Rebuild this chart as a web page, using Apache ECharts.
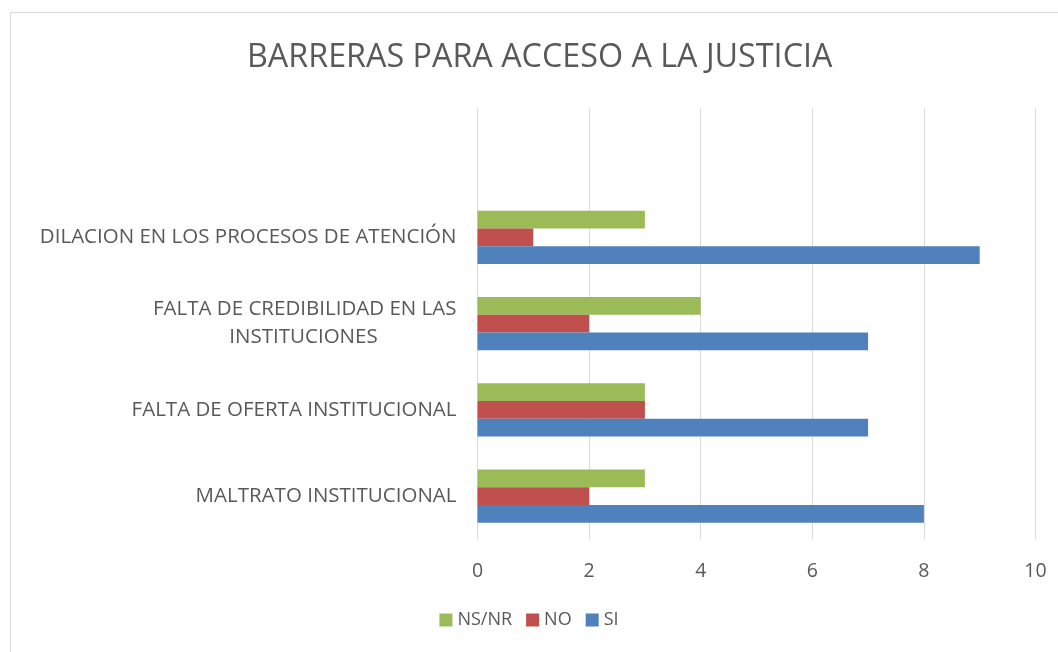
<!DOCTYPE html>
<html><head><meta charset="utf-8">
<script src="https://cdn.jsdelivr.net/npm/echarts@6/dist/echarts.min.js"></script>
<style>html,body{margin:0;padding:0;background:#fff}#c{width:1058px;height:652px}</style>
</head><body><div id="c"></div>
<script>
const categories = ["MALTRATO INSTITUCIONAL", "FALTA DE OFERTA INSTITUCIONAL", "FALTA DE CREDIBILIDAD EN LAS\nINSTITUCIONES", "DILACION EN LOS PROCESOS DE ATENCIÓN", ""];
const siValues = [8, 7, 7, 9];
const noValues = [2, 3, 2, 1];
const nsnrValues = [3, 3, 4, 3];
const xTicks = [0, 2, 4, 6, 8, 10];

const FONT = '"Open Sans", sans-serif';
const chart = echarts.init(document.getElementById('c'));
chart.setOption({
  animation: false,
  graphic: [{type:'rect', shape:{x:10.5,y:12.5,width:1100,height:700}, style:{fill:'none', stroke:'#d9d9d9', lineWidth:1}}],
  title: {text:'BARRERAS PARA ACCESO A LA JUSTICIA', left:242, top:37,
    textStyle:{fontFamily:FONT, fontWeight:'normal', fontSize:32.3, color:'#595959'}},
  legend: {data:['NS/NR','NO','SI'], bottom:18, left:'center', itemWidth:13, itemHeight:13, itemGap:14,
    icon:'rect', textStyle:{fontFamily:FONT, fontSize:18, color:'#595959'}},
  grid: {left:477.5, right:22.5, top:108, bottom:112.7, containLabel:false},
  xAxis: {type:'value', min:xTicks[0], max:xTicks[xTicks.length-1], interval:2,
    axisLine:{show:false}, axisTick:{show:false},
    splitLine:{lineStyle:{color:'#d9d9d9', width:1}},
    axisLabel:{fontFamily:FONT, fontSize:19.5, color:'#595959', margin:22}},
  yAxis: {type:'category', data:categories,
    axisLine:{show:false}, axisTick:{show:false},
    axisLabel:{fontFamily:FONT, fontSize:20.5, color:'#595959', margin:21, lineHeight:28,
      formatter: v => {
        if (v.indexOf('\n') < 0) return v;
        const p = v.split('\n');
        return '{a|' + p[0] + '}\n{b|' + p[1] + '}';
      },
      rich:{a:{fontFamily:FONT, fontSize:20.5, color:'#595959', lineHeight:28},
            b:{fontFamily:FONT, fontSize:20.5, color:'#595959', lineHeight:28, width:306, align:'center'}}}},
  series: [
    {name:'NS/NR', type:'bar', data:nsnrValues, itemStyle:{color:'#9BBB59'}, barGap:'0%', barCategoryGap:'38.2%'},
    {name:'NO', type:'bar', data:noValues, itemStyle:{color:'#C0504D'}, barGap:'0%', barCategoryGap:'38.2%'},
    {name:'SI', type:'bar', data:siValues, itemStyle:{color:'#4F81BD'}, barGap:'0%', barCategoryGap:'38.2%'}
  ]
});
</script></body></html>
